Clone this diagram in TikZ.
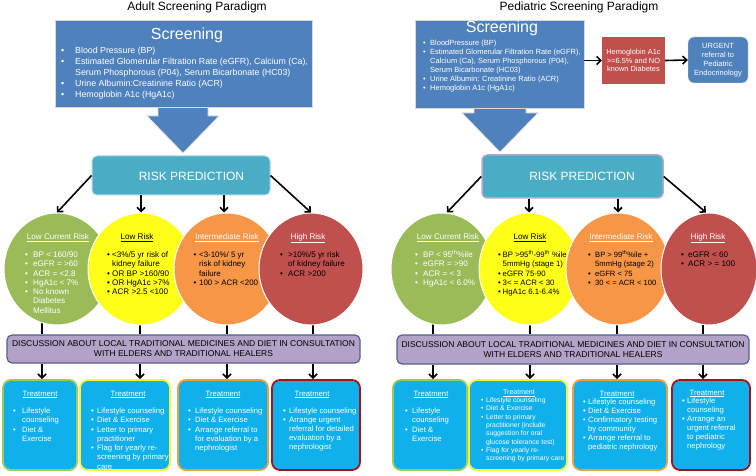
\documentclass[tikz,border=0pt]{standalone}
\usepackage{fontspec}
\setmainfont{Liberation Sans}
\usetikzlibrary{arrows.meta,shapes.geometric,calc}
\pgfdeclarelayer{bg}
\pgfsetlayers{bg,main}
\definecolor{scrblue}{HTML}{4F81BD}
\definecolor{rpteal}{HTML}{4BACC6}
\definecolor{rpedge}{HTML}{A9D8E4}
\definecolor{rppurp}{HTML}{B9A6D0}
\definecolor{cgreen}{HTML}{9BBB59}
\definecolor{cyellow}{HTML}{FFFF1A}
\definecolor{corange}{HTML}{F79646}
\definecolor{cred}{HTML}{C0504D}
\definecolor{dpurp}{HTML}{B3A2C7}
\definecolor{dedge}{HTML}{55608F}
\definecolor{tfill}{HTML}{0FB0EC}
\definecolor{tgreen}{HTML}{9BCB5A}
\definecolor{tyellow}{HTML}{F5F53A}
\definecolor{torange}{HTML}{E9A13B}
\definecolor{tred}{HTML}{A3141E}
\newcommand\setfs[2]{\fontsize{#1}{#2}\selectfont}
\newenvironment{blst}[1]{\begin{tabular}[t]{@{}p{#1}@{}l@{}}}{\end{tabular}}
\newcommand\bi[1]{\smash{\textbullet}&\smash{#1}\\}
\newcommand\ci[1]{&\smash{#1}\\}
\begin{document}
\begin{tikzpicture}[x=1pt,y=-1pt,
  arr/.style={line width=1.6pt,-{Straight Barb[length=4pt,width=8pt]}},
  vline/.style={line width=1.6pt},
  sbox/.style={rectangle,fill=scrblue,draw=black!15,line width=0.8pt,inner sep=0pt},
  rp/.style={rectangle,rounded corners=5pt,fill=rpteal,draw=rpedge,line width=1pt,inner sep=0pt},
  circ/.style={ellipse,draw=white,line width=1pt,inner sep=0pt,minimum height=112pt},
  disc/.style={rectangle,rounded corners=5pt,fill=dpurp,draw=dedge,line width=1.2pt,inner sep=0pt,align=center,font=\setfs{8.5}{10}},
  tbox/.style={rectangle,rounded corners=8pt,fill=tfill,line width=1.8pt,inner sep=0pt,minimum height=90pt},
  lst/.style={anchor=base west,inner sep=0pt},
  hd/.style={anchor=base,inner sep=0pt},
  ctxt/.style={lst,font=\setfs{8.1}{9.3}},
  chd/.style={hd,font=\setfs{8.1}{9.3}},
  ttxt/.style={lst,font=\setfs{7.7}{9.3},text=white},
  thd/.style={hd,font=\setfs{7.7}{9.3},text=white}]
\useasboundingbox (0,0) rectangle (756,476);
\begin{pgfonlayer}{bg}
\fill[white] (0,0) rectangle (756,476);
\end{pgfonlayer}

% titles
\node[hd,font=\setfs{12}{14}] (titL) at (197,11) {Adult Screening Paradigm};
\node[hd,font=\setfs{12}{14}] (titR) at (579,11) {Pediatric Screening Paradigm};

% ===== LEFT screening =====
\coordinate (aL) at (183,153);
\filldraw[fill=scrblue,draw=black!12,line width=0.8pt] ($(aL)+(-25,-55)$) -- ($(aL)+(-25,-37)$) -- ($(aL)+(-36,-37)$) -- (aL) -- ($(aL)+(36,-37)$) -- ($(aL)+(25,-37)$) -- ($(aL)+(25,-55)$) -- cycle;
\node[sbox,minimum width=257pt,minimum height=87pt] (sL) at (183.5,63.5) {};
\node[hd,font=\setfs{16}{18},text=white] (sLt) at (187,39.5) {Screening};
\node[lst,font=\setfs{8.8}{11},text=white] (sLl) at (61,53.5) {\begin{blst}{14pt}
\bi{Blood Pressure (BP)}
\bi{Estimated Glomerular Filtration Rate (eGFR), Calcium (Ca),}
\ci{Serum Phosphorous (P04), Serum Bicarbonate (HC03)}
\bi{Urine Albumin:Creatinine Ratio (ACR)}
\bi{Hemoglobin A1c (HgA1c)}
\end{blst}};

% ===== RIGHT screening =====
\coordinate (aR) at (500,152);
\filldraw[fill=scrblue,draw=black!12,line width=0.8pt] ($(aR)+(-26,-55)$) -- ($(aR)+(-26,-39)$) -- ($(aR)+(-38,-39)$) -- (aR) -- ($(aR)+(38,-39)$) -- ($(aR)+(26,-39)$) -- ($(aR)+(26,-55)$) -- cycle;
\node[sbox,minimum width=169pt,minimum height=88pt] (sR) at (499.5,64) {};
\node[hd,font=\setfs{16}{18},text=white] (sRt) at (502,32.5) {Screening};
\node[lst,font=\setfs{7.5}{9},text=white] (sRl) at (423,45.5) {\begin{blst}{7pt}
\bi{BloodPressure (BP)}
\bi{Estimated Glomerular Filtration Rate (eGFR),}
\ci{Calcium (Ca), Serum Phosphorous (P04),}
\ci{Serum Bicarbonate (HC03)}
\bi{Urine Albumin: Creatinine Ratio (ACR)}
\bi{Hemoglobin A1c (HgA1c)}
\end{blst}};
\node[rectangle,fill=cred,inner sep=0pt,minimum width=63pt,minimum height=47pt,align=center,text=white,font=\setfs{7.4}{8.7}] (hb) at (633.5,60.5) {Hemoglobin A1c\\>=6.5\% and NO\\known Diabetes};
\node[rectangle,rounded corners=6pt,fill=scrblue,draw=black!12,inner sep=0pt,minimum width=60pt,minimum height=46pt,align=center,text=white,font=\setfs{7.5}{9}] (ur) at (718,60) {URGENT\\referral to\\Pediatric\\Endocrinology};
\draw[arr] (sR.east |- hb.west) -- (hb.west);
\draw[arr] (hb.east) -- (ur.west);

% ===== risk prediction =====
\node[rp,minimum width=178pt,minimum height=39pt] (rpL) at (181,175.5) {};
\node[hd,font=\setfs{12}{14},text=white] (rpLt) at (191.5,180.5) {RISK PREDICTION};
\node[rp,draw=rppurp,line width=1.5pt,minimum width=181pt,minimum height=43pt] (rpR) at (572.5,176.5) {};
\node[hd,font=\setfs{12}{14},text=white] (rpRt) at (582,180.7) {RISK PREDICTION};

% ===== LEFT circles =====
\node[circ,fill=cgreen,minimum width=106pt] (gL) at (57,269) {};
\node[chd,text=white] (gLh) at (58,239.5) {\underline{Low Current Risk}};
\node[ctxt,text=white] (gLl) at (25,257.5) {\begin{blst}{8pt}
\bi{BP < 160/90}\bi{eGFR = >60}\bi{ACR = <2.8}\bi{HgA1c < 7\%}\bi{No known}\ci{Diabetes}\ci{Mellitus}
\end{blst}};
\node[circ,fill=cyellow,minimum width=106pt] (yL) at (141,269) {};
\node[chd] (yLh) at (137,239.5) {\underline{Low Risk}};
\node[ctxt] (yLl) at (107,257.5) {\begin{blst}{5pt}
\bi{<3\%/5 yr risk of}\ci{kidney failure}\bi{OR BP >160/90}\bi{OR HgA1c >7\%}\bi{ACR >2.5 <100}
\end{blst}};
\node[circ,fill=corange,minimum width=106pt] (oL) at (227,269) {};
\node[chd,text=white] (oLh) at (227,239.5) {\underline{Intermediate Risk}};
\node[ctxt,font=\setfs{7.9}{9.3}] (oLl) at (193.5,257.5) {\begin{blst}{5.5pt}
\bi{<3-10\%/ 5 yr}\ci{risk of kidney}\ci{failure}\bi{100 > ACR <200}
\end{blst}};
\node[circ,fill=cred,minimum width=104pt] (rL) at (311,269) {};
\node[chd,text=white] (rLh) at (308,239.5) {\underline{High Risk}};
\node[ctxt] (rLl) at (280,257.5) {\begin{blst}{8pt}
\bi{>10\%/5 yr risk}\ci{of kidney failure}\bi{ACR >200}
\end{blst}};

% ===== RIGHT circles =====
\node[circ,fill=cgreen,minimum width=102pt] (gR) at (442,269) {};
\node[chd,text=white] (gRh) at (448,239.5) {\underline{Low Current Risk}};
\node[ctxt,text=white] (gRl) at (415,257.5) {\begin{blst}{8pt}
\bi{BP < 95\textsuperscript{th}\%ile}\bi{eGFR = >90}\bi{ACR = < 3}\bi{HgA1c < 6.0\%}
\end{blst}};
\node[circ,fill=cyellow,minimum width=100pt] (yR) at (529,269) {};
\node[chd] (yRh) at (530,239.5) {\underline{Low Risk}};
\node[ctxt,font=\setfs{7.8}{9.3}] (yRl) at (498,257.5) {\begin{blst}{4.5pt}
\bi{BP >95\textsuperscript{th}-99\textsuperscript{th} \%ile +}\ci{5mmHg (stage 1)}\bi{eGFR 75-90}\bi{3< = ACR < 30}\bi{HgA1c 6.1-6.4\%}
\end{blst}};
\node[circ,fill=corange,minimum width=104pt] (oR) at (618,269) {};
\node[chd,text=white] (oRh) at (621,239.5) {\underline{Intermediate Risk}};
\node[ctxt,font=\setfs{7.6}{9.3}] (oRl) at (588,257.5) {\begin{blst}{7pt}
\bi{BP > 99\textsuperscript{th}\%ile +}\ci{5mmHg (stage 2)}\bi{eGFR < 75}\bi{30 < = ACR < 100}
\end{blst}};
\node[circ,fill=cred,minimum width=96pt] (rR) at (709,269) {};
\node[chd,text=white] (rRh) at (708,239.5) {\underline{High Risk}};
\node[ctxt] (rRl) at (681,257.5) {\begin{blst}{7pt}
\bi{eGFR < 60}\bi{ACR > = 100}
\end{blst}};

% arrows risk -> circles
\draw[arr] (rpL.west) -- (gL.north);
\draw[arr] (yL.north |- rpL.south) -- (yL.north);
\draw[arr] ($(oL.north |- rpL.south)+(-3,0)$) -- ($(oL.north)+(-3,0)$);
\draw[arr] (rpL.east) -- (rL.north);
\draw[arr] (rpR.west) -- ($(gR.north)+(5,0)$);
\draw[arr] (yR.north |- rpR.south) -- (yR.north);
\draw[arr] (oR.north |- rpR.south) -- (oR.north);
\draw[arr] (rpR.east) -- ($(rR.north)+(-3,0)$);

% ===== discussion =====
\node[disc,minimum width=353pt,minimum height=28pt] (dL) at (183.5,349) {DISCUSSION ABOUT LOCAL TRADITIONAL MEDICINES AND DIET IN CONSULTATION\\WITH ELDERS AND TRADITIONAL HEALERS};
\node[disc,minimum width=352pt,minimum height=29pt] (dR) at (573,349.5) {DISCUSSION ABOUT LOCAL TRADITIONAL MEDICINES AND DIET IN CONSULTATION\\WITH ELDERS AND TRADITIONAL HEALERS};

% ===== treatment boxes =====
\node[tbox,draw=tgreen,minimum width=74pt] (tL1) at (40,425) {};
\node[tbox,draw=tyellow,minimum width=90pt] (tL2) at (125,425) {};
\node[tbox,draw=torange,minimum width=90pt] (tL3) at (223,425) {};
\node[tbox,draw=tred,minimum width=88pt] (tL4) at (316,425) {};
\node[tbox,draw=tgreen,minimum width=74pt] (tR1) at (430,425) {};
\node[tbox,draw=tyellow,minimum width=98pt] (tR2) at (518,425) {};
\node[tbox,draw=torange,minimum width=94pt] (tR3) at (620,425) {};
\node[tbox,draw=tred,minimum width=78pt] (tR4) at (711,425) {};

% column coordinates
\coordinate (cL1) at (42,0);
\coordinate (cL2) at (140,0);
\coordinate (cL3) at (227,0);
\coordinate (cL4) at (313,0);
\coordinate (cR1) at (433,0);
\coordinate (cR2) at (530,0);
\coordinate (cR3) at (617,0);
\coordinate (cR4) at (703,0);
\begin{pgfonlayer}{bg}
\draw[vline] (gL.center -| cL1) -- (cL1 |- dL.north);
\draw[vline] (yL.center -| cL2) -- (cL2 |- dL.north);
\draw[vline] (oL.center -| cL3) -- (cL3 |- dL.north);
\draw[vline] (rL.center -| cL4) -- (cL4 |- dL.north);
\draw[vline] (gR.center -| cR1) -- (cR1 |- dR.north);
\draw[vline] (yR.center -| cR2) -- (cR2 |- dR.north);
\draw[vline] (oR.center -| cR3) -- (cR3 |- dR.north);
\draw[vline] (rR.center -| cR4) -- (cR4 |- dR.north);
\end{pgfonlayer}
\draw[arr] (cL1 |- dL.south) -- (cL1 |- tL1.north);
\draw[arr] (cL2 |- dL.south) -- (cL2 |- tL2.north);
\draw[arr] (cL3 |- dL.south) -- (cL3 |- tL3.north);
\draw[arr] (cL4 |- dL.south) -- (cL4 |- tL4.north);
\draw[arr] (cR1 |- dR.south) -- (cR1 |- tR1.north);
\draw[arr] (cR2 |- dR.south) -- (cR2 |- tR2.north);
\draw[arr] (cR3 |- dR.south) -- (cR3 |- tR3.north);
\draw[arr] (cR4 |- dR.south) -- (cR4 |- tR4.north);

% treatment texts left
\node[thd] (tL1h) at (40,396) {\underline{Treatment}};
\node[ttxt] (tL1l) at (13,413.5) {\begin{blst}{9pt}
\bi{Lifestyle}\ci{counseling}\bi{Diet \&}\ci{Exercise}
\end{blst}};
\node[thd] (tL2h) at (128,396) {\underline{Treatment}};
\node[ttxt] (tL2l) at (91,413.5) {\begin{blst}{6pt}
\bi{Lifestyle counseling}\bi{Diet \& Exercise}\bi{Letter to primary}\ci{practitioner}\bi{Flag for yearly re-}\ci{screening by primary}\ci{care}
\end{blst}};
\node[thd] (tL3h) at (223,396) {\underline{Treatment}};
\node[ttxt] (tL3l) at (188,413.5) {\begin{blst}{7pt}
\bi{Lifestyle counseling}\bi{Diet \& Exercise}\bi{Arrange referral to}\ci{for evaluation by a}\ci{nephrologist}
\end{blst}};
\node[thd] (tL4h) at (312,396) {\underline{Treatment}};
\node[ttxt,font=\setfs{7.7}{9}] (tL4l) at (283,413.5) {\begin{blst}{6pt}
\bi{Lifestyle counseling}\bi{Arrange urgent}\ci{referral for detailed}\ci{evaluation by a}\ci{nephrologist}
\end{blst}};

% treatment texts right
\node[thd] (tR1h) at (431,396) {\underline{Treatment}};
\node[ttxt] (tR1l) at (405,413.5) {\begin{blst}{7pt}
\bi{Lifestyle}\ci{counseling}\bi{Diet \&}\ci{Exercise}
\end{blst}};
\node[thd,font=\setfs{7}{8.3}] (tR2h) at (519,394.5) {\underline{Treatment}};
\node[ttxt,font=\setfs{6.8}{8.3}] (tR2l) at (481,402.5) {\begin{blst}{5pt}
\bi{Lifestyle counseling}\bi{Diet \& Exercise}\bi{Letter to primary}\ci{practitioner (include}\ci{suggestion for oral}\ci{glucose tolerance test)}\bi{Flag for yearly re-}\ci{screening by primary care}
\end{blst}};
\node[thd] (tR3h) at (617,396) {\underline{Treatment}};
\node[ttxt,font=\setfs{7.7}{9}] (tR3l) at (583,404.5) {\begin{blst}{5pt}
\bi{Lifestyle counseling}\bi{Diet \& Exercise}\bi{Confirmatory testing}\ci{by community}\bi{Arrange referral to}\ci{pediatric nephrology}
\end{blst}};
\node[thd] (tR4h) at (707,395) {\underline{Treatment}};
\node[ttxt,font=\setfs{7.7}{9}] (tR4l) at (682,403.5) {\begin{blst}{5pt}
\bi{Lifestyle}\ci{counseling}\bi{Arrange an}\ci{urgent referral}\ci{to pediatric}\ci{nephrology}
\end{blst}};
\end{tikzpicture}
\end{document}
